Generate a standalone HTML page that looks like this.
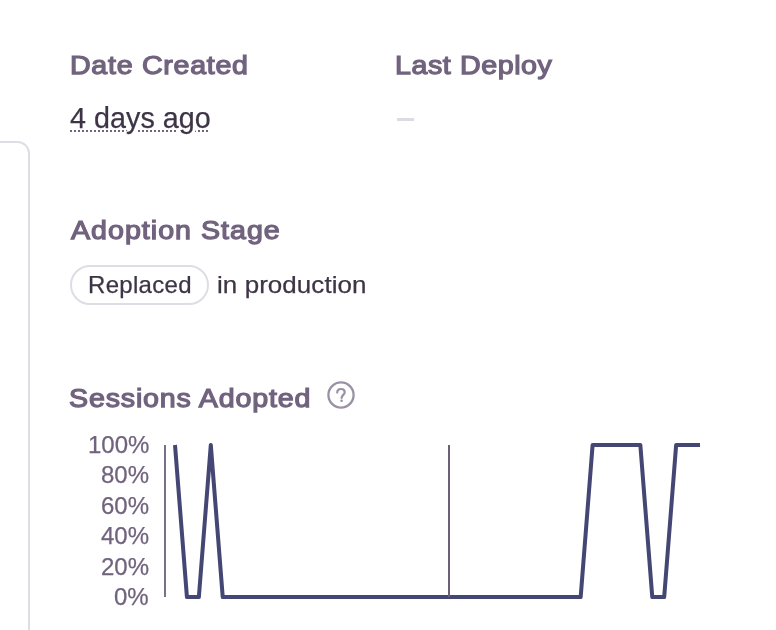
<!DOCTYPE html>
<html>
<head>
<meta charset="utf-8">
<style>
html,body{margin:0;padding:0;background:#fff;width:776px;height:630px;overflow:hidden;position:relative}
body{font-family:"Liberation Sans",sans-serif}
.t{position:absolute;white-space:nowrap;line-height:1;will-change:transform}
.h{font-weight:400;font-size:26px;color:#71637E;-webkit-text-stroke:1.25px #71637E;transform:scaleX(1.1);transform-origin:0 0}
.b{font-weight:400;color:#3E3446;-webkit-text-stroke:0.25px #3E3446}
.panel{position:absolute;left:-20px;top:141px;width:50px;height:520px;border:2px solid #E0DCE5;border-radius:12.5px;box-sizing:border-box}
.dash{position:absolute;left:397px;top:118.2px;width:17px;height:2.6px;background:#DEDAE3}
.tag{position:absolute;left:70px;top:265px;width:139px;height:40px;border:2px solid #E0DCE5;border-radius:20px;box-sizing:border-box}
.ul{position:absolute;left:70px;top:130px;width:138px;height:0;border-top:2px dotted #71637E}
.yl{position:absolute;will-change:transform;right:627px;font-size:24px;color:#71637E;-webkit-text-stroke:0.25px #71637E;line-height:1;white-space:nowrap}
</style>
</head>
<body>
<div class="panel"></div>

<div class="t h" style="left:70px;top:51.6px;letter-spacing:0.65px">Date Created</div>
<div class="t h" style="left:395.4px;top:51.5px;letter-spacing:0.53px">Last Deploy</div>

<div class="ul"></div>
<div class="t b" style="left:70.2px;top:103.6px;font-size:28.7px;letter-spacing:0.04px;text-shadow:3.5px 0 #fff,-3.5px 0 #fff,2px 0 #fff,-2px 0 #fff">4 days ago</div>
<div class="dash"></div>

<div class="t h" style="left:70.5px;top:217.3px;letter-spacing:0.92px">Adoption Stage</div>
<div class="tag"></div>
<div class="t b" style="left:88px;top:272.7px;font-size:24px;letter-spacing:0.3px">Replaced</div>
<div class="t b" style="left:217.2px;top:273.3px;font-size:24px;letter-spacing:0.08px;transform:scaleX(1.08);transform-origin:0 0">in production</div>

<div class="t h" style="left:69.3px;top:385.3px;letter-spacing:0.75px">Sessions Adopted</div>
<svg style="position:absolute;left:327px;top:381px" width="28" height="28" viewBox="0 0 28 28">
  <circle cx="14" cy="14" r="12.6" fill="none" stroke="#9B91A6" stroke-width="2.3"/>
  <path d="M10.2 11.6 C10.2 9.3 11.9 8 14 8 C16.1 8 17.7 9.3 17.7 11.3 C17.7 13.8 14.6 14 14.6 16.9" fill="none" stroke="#9B91A6" stroke-width="2.2" stroke-linecap="round"/>
  <circle cx="14.6" cy="19.7" r="1.3" fill="#9B91A6"/>
</svg>

<div class="yl" style="top:433.2px">100%</div>
<div class="yl" style="top:463.3px">80%</div>
<div class="yl" style="top:494px">60%</div>
<div class="yl" style="top:524.1px">40%</div>
<div class="yl" style="top:555px">20%</div>
<div class="yl" style="top:585.1px">0%</div>

<svg style="position:absolute;left:0;top:0" width="776" height="630" viewBox="0 0 776 630">
  <line x1="165" y1="445" x2="165" y2="597" stroke="#6C5F7C" stroke-width="1.8"/>
  <polyline id="series" fill="none" stroke="#444674" stroke-width="4" stroke-linejoin="round" points="175,445 186.93,597 198.86,597 210.8,445 222.73,597 580.68,597 592.61,445 640.34,445 652.27,597 664.2,597 676.14,445 700,445"/>
  <line x1="449" y1="445" x2="449" y2="597" stroke="#6C5F7C" stroke-width="2"/>
</svg>

</body>
</html>
